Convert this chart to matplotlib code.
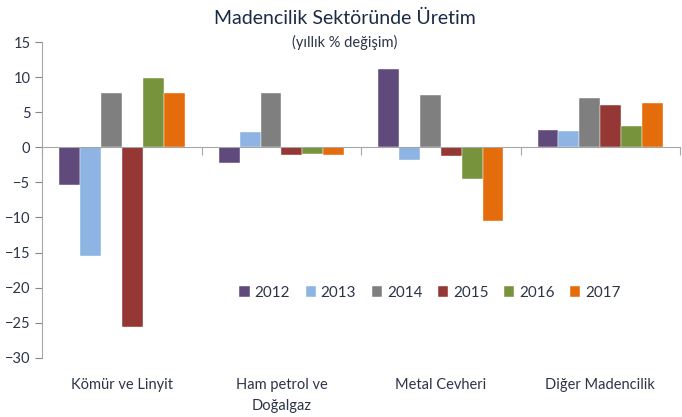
import numpy as np
import matplotlib.pyplot as plt
from matplotlib.ticker import FixedLocator

plt.rcParams['font.family'] = ['Lato', 'DejaVu Sans']

categories = ['Kömür ve Linyit', 'Ham petrol ve\nDoğalgaz', 'Metal Cevheri', 'Diğer Madencilik']
years = ['2012', '2013', '2014', '2015', '2016', '2017']
v2012 = [-5.3, -2.2, 11.1, 2.5]
v2013 = [-15.5, 2.2, -1.8, 2.3]
v2014 = [7.8, 7.7, 7.5, 7.0]
v2015 = [-25.6, -1.1, -1.3, 6.1]
v2016 = [9.9, -0.9, -4.5, 3.0]
v2017 = [7.8, -1.1, -10.5, 6.3]
colors = ['#604A7B', '#8EB4E3', '#7F7F7F', '#953735', '#77933C', '#E46C0A']

series = [v2012, v2013, v2014, v2015, v2016, v2017]
txt = '#2B3547'

fig = plt.figure(figsize=(6.82, 4.17), dpi=100)
ax = fig.add_axes([0.062, 0.142, 0.935, 0.757])

x = np.arange(len(categories))
w = 0.131
for i, (vals, c, yr) in enumerate(zip(series, colors, years)):
    ax.bar(x + (i - 2.5) * w, vals, width=w, color=c, label=yr,
           edgecolor='white', linewidth=0.3)

ax.set_xlim(-0.5, 3.5)
ax.set_ylim(-30, 15)
ax.set_yticks(np.arange(-30, 16, 5))
ax.tick_params(axis='y', labelsize=10.5, colors='#888888', labelcolor=txt,
               length=5, direction='out')

# category axis sits on zero
ax.spines['bottom'].set_position(('data', 0))
ax.spines['bottom'].set_color('#A6A6A6')
ax.spines['left'].set_color('#A6A6A6')
ax.spines['top'].set_visible(False)
ax.spines['right'].set_visible(False)
ax.xaxis.set_major_locator(FixedLocator([-0.5, 0.5, 1.5, 2.5, 3.5]))
ax.tick_params(axis='x', length=6, colors='#A6A6A6', labelbottom=False)

for xi, lab in zip(x, categories):
    ax.text(xi, -0.065, lab, transform=ax.get_xaxis_transform(), ha='center',
            va='top', fontsize=10.5, color=txt, linespacing=1.65)

fig.text(0.505, 0.955, 'Madencilik Sektöründe Üretim', ha='center', va='center',
         fontsize=14, color='#1B2A45')
fig.text(0.505, 0.898, '(yıllık % değişim)', ha='center', va='center',
         fontsize=10.5, color=txt)

ax.legend(loc='center', bbox_to_anchor=(0.608, 0.206), ncol=6, frameon=False,
          fontsize=11, handlelength=0.7, handleheight=0.7, handletextpad=0.3,
          columnspacing=1.0, labelcolor=txt)

fig.savefig('out.png', dpi=100)
